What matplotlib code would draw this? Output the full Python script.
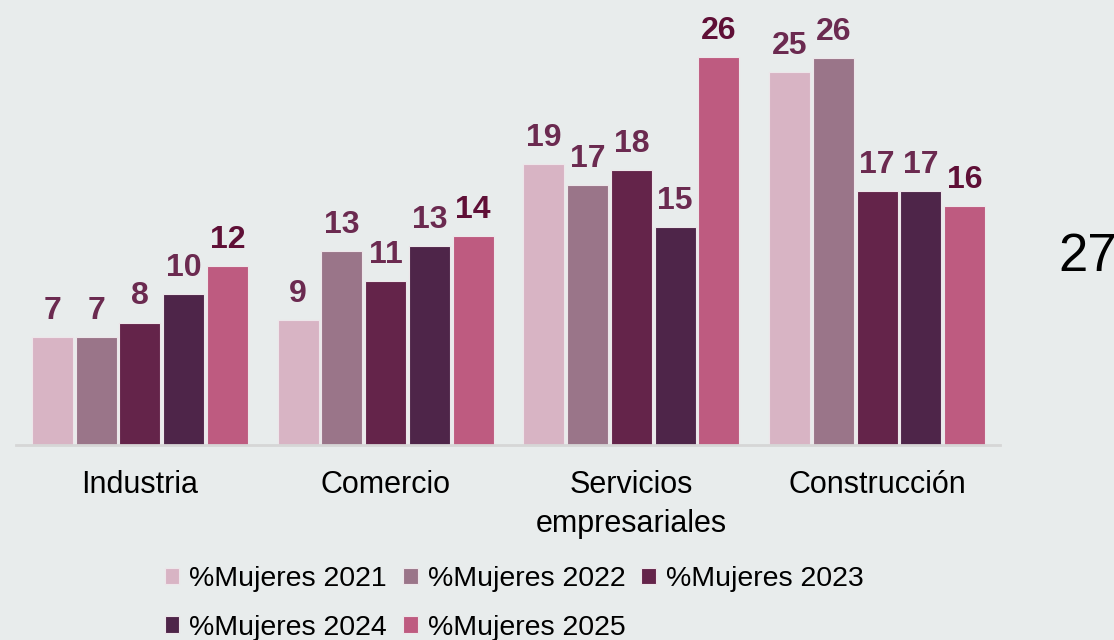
import numpy as np
import matplotlib
matplotlib.use("Agg")
import matplotlib.pyplot as plt

plt.rcParams['font.family'] = ['Liberation Sans', 'DejaVu Sans']

categories = ["Industria", "Comercio", "Servicios\nempresariales", "Construcción"]
series = ["%Mujeres 2021", "%Mujeres 2022", "%Mujeres 2023", "%Mujeres 2024", "%Mujeres 2025"]
colors = ["#D8B4C4", "#9A7589", "#64244A", "#4E2549", "#BE5B80"]
label_colors = ["#6B2A50", "#6B2A50", "#6B2A50", "#6B2A50", "#5F0F36"]

values = [
    [7.2, 8.4, 18.8, 25.0],
    [7.2, 13.0, 17.4, 25.9],
    [8.2, 11.0, 18.4, 17.0],
    [10.1, 13.3, 14.6, 17.0],
    [12.0, 14.0, 26.0, 16.0],
]
labels = [
    ["7", "9", "19", "25"],
    ["7", "13", "17", "26"],
    ["8", "11", "18", "17"],
    ["10", "13", "15", "17"],
    ["12", "14", "26", "16"],
]
side_note = "27"

bg = "#E8ECEC"
fig = plt.figure(figsize=(11.14, 6.4), dpi=100, facecolor=bg)
ax = fig.add_axes([16 / 1114, 1 - 445 / 640, 984 / 1114, 445 / 640])
ax.set_facecolor(bg)

x = np.arange(len(categories))
slot = 0.178
handles = []
for i, (name, col) in enumerate(zip(series, colors)):
    pos = x + (i - 2) * slot
    bars = ax.bar(pos, values[i], width=0.167, color=col, edgecolor="#EDE6EA",
                  linewidth=0.8, label=name)
    handles.append(bars)
    for p, v, t in zip(pos, values[i], labels[i]):
        ax.annotate(t, (p, v), xytext=(0, 13), textcoords="offset points",
                    ha="center", va="baseline", fontsize=23, fontweight="bold",
                    color=label_colors[i], clip_on=False)

ax.set_xlim(-0.504, 3.5)
ax.set_ylim(0, 29.8)
ax.set_yticks([])
ax.set_xticks(x)
ax.set_xticklabels(categories, fontsize=22, linespacing=1.38)
ax.tick_params(axis="x", length=0, pad=18)
for s in ["top", "left", "right"]:
    ax.spines[s].set_visible(False)
ax.spines["bottom"].set_color("#D6D6D6")
ax.spines["bottom"].set_linewidth(2)

fig.text(1058 / 1114, 1 - 257 / 640, side_note, fontsize=38, ha="left",
         va="center", color="black")

order = [0, 3, 1, 4, 2]
fig.legend([handles[k] for k in order], [series[k] for k in order],
           loc="upper center", bbox_to_anchor=(514 / 1114, 1 - 566 / 640),
           ncol=3, frameon=False, fontsize=20.5, handlelength=0.52,
           handleheight=0.52, handletextpad=0.35, columnspacing=0.55,
           labelspacing=0.8, borderpad=0, borderaxespad=0)

fig.savefig("out.png", dpi=100, facecolor=bg)
